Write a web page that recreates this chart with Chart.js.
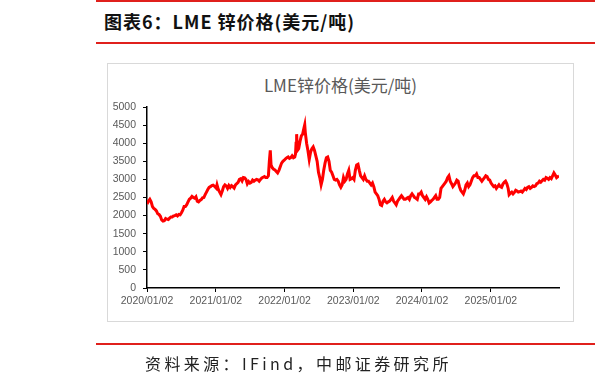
<!DOCTYPE html>
<html>
<head>
<meta charset="utf-8">
<script src="https://cdn.jsdelivr.net/npm/chart.js@4.4.0/dist/chart.umd.min.js"></script>
<style>
  body { margin: 0; width: 595px; height: 385px; position: relative; overflow: hidden; background: #fff;
         font-family: "Noto Sans CJK SC", sans-serif; }
  .rule { position: absolute; left: 96px; right: 0; background: #e0201c; }
  #head { position: absolute; left: 104px; top: 9px; font-size: 18px; font-weight: bold; color: #111; white-space: nowrap; line-height: 24px; letter-spacing: 1px; }
  #box { position: absolute; left: 107px; top: 63px; width: 467px; height: 259px; border: 1px solid #d9d9d9; box-sizing: border-box; }
  #ctitle { position: absolute; left: 107px; width: 467px; top: 73px; text-align: center; font-size: 17px; color: #595959; line-height: 24px; }
  #zincChart { position: absolute; left: 0; top: 0; }
  #src { position: absolute; left: 145px; top: 352px; font-size: 16px; color: #222; letter-spacing: 3.4px; white-space: nowrap; line-height: 22px; }
</style>
</head>
<body>
<div class="rule" style="top:0;height:2px"></div>
<div id="head">图表6：LME 锌价格(美元/吨)</div>
<div class="rule" style="top:42px;height:1.5px"></div>
<div id="box"></div>
<div id="ctitle">LME锌价格(美元/吨)</div>
<canvas id="zincChart" width="595" height="385"></canvas>
<div class="rule" style="top:343px;height:1.5px"></div>
<div id="src">资料来源：IFind，中邮证券研究所</div>

<script>
// weekly readings of LME zinc (USD/t)
var dates2020 = ['01-02','01-10','01-17','01-24','01-31','02-07','02-14','02-21','02-28','03-06','03-13','03-20','03-27',
  '04-03','04-10','04-17','04-24','05-01','05-08','05-15','05-22','05-29','06-05','06-12','06-19','06-26',
  '07-03','07-10','07-17','07-24','07-31','08-07','08-14','08-21','08-28','09-04','09-11','09-18','09-25',
  '10-02','10-09','10-16','10-23','10-30','11-06','11-13','11-20','11-27','12-04','12-11','12-18','12-28'];
var prices2020 = [2320,2400,2450,2380,2250,2200,2170,2130,2050,2030,1980,1880,1850,
  1860,1920,1900,1890,1930,1960,1960,1990,2000,2020,1990,2030,2020,
  2080,2150,2250,2250,2300,2380,2450,2480,2530,2500,2480,2520,2400,
  2380,2420,2440,2490,2500,2580,2650,2720,2780,2800,2830,2840,2800];

var dates2021 = ['01-04','01-08','01-15','01-22','01-29','02-05','02-12','02-19','02-26','03-05','03-12','03-19','03-26',
  '04-02','04-09','04-16','04-23','04-30','05-07','05-14','05-21','05-28','06-04','06-11','06-18','06-25',
  '07-02','07-09','07-16','07-23','07-30','08-06','08-13','08-20','08-27','09-03','09-10','09-17','09-24',
  '10-01','10-08','10-13','10-18','10-22','10-29','11-05','11-12','11-19','11-26','12-03','12-10','12-17','12-24','12-31'];
var prices2021 = [2760,2850,2720,2650,2580,2680,2800,2850,2820,2750,2830,2780,2830,
  2800,2760,2850,2880,2920,3000,3020,2960,3050,3040,3000,2880,2940,
  2900,2920,2980,2950,2980,3000,2990,2950,3000,3040,3060,3080,3050,
  3050,3100,3500,3800,3400,3320,3280,3260,3220,3180,3250,3350,3450,3500,3530];

var dates2022 = ['01-07','01-14','01-21','01-28','02-04','02-11','02-18','02-25','03-01','03-04','03-07','03-11','03-18','03-25',
  '04-01','04-08','04-14','04-19','04-22','04-29','05-06','05-13','05-20','05-27','06-03','06-10','06-17','06-24',
  '07-01','07-08','07-15','07-22','07-29','08-05','08-12','08-19','08-26','09-02','09-09','09-16','09-23','09-30',
  '10-07','10-14','10-21','10-28','11-04','11-11','11-18','11-25','12-02','12-09','12-16','12-23','12-30'];
var prices2022 = [3570,3600,3620,3580,3600,3650,3600,3620,3700,4000,4250,3800,3850,4050,
  4200,4250,4400,4510,4300,4000,3800,3550,3750,3850,3900,3800,3650,3500,
  3200,3050,2850,3000,3250,3450,3600,3620,3500,3250,3200,3100,3000,2980,
  3000,2950,2850,2780,2850,3050,2950,3000,3150,3250,3000,3020,3050];

var dates2023 = ['01-06','01-13','01-20','01-27','02-03','02-10','02-17','02-24','03-03','03-10','03-17','03-24','03-31',
  '04-07','04-14','04-21','04-28','05-05','05-12','05-19','05-26','06-02','06-09','06-16','06-23','06-30',
  '07-07','07-14','07-21','07-28','08-04','08-11','08-18','08-25','09-01','09-08','09-15','09-22','09-29',
  '10-06','10-13','10-20','10-27','11-03','11-10','11-17','11-24','12-01','12-08','12-15','12-22','12-29'];
var prices2023 = [3000,3250,3400,3420,3250,3100,3050,3000,3100,3000,2950,2950,2900,
  2850,2900,2800,2650,2600,2550,2450,2300,2280,2400,2450,2380,2350,
  2380,2400,2450,2500,2400,2350,2300,2400,2450,2500,2550,2500,2450,
  2450,2480,2500,2450,2550,2600,2550,2500,2480,2450,2600,2600,2650];

var dates2024 = ['01-05','01-12','01-19','01-26','02-02','02-09','02-16','02-23','03-01','03-08','03-15','03-22','03-29',
  '04-05','04-12','04-19','04-26','05-03','05-10','05-17','05-24','05-31','06-07','06-14','06-21','06-28',
  '07-05','07-12','07-19','07-26','08-02','08-09','08-16','08-23','08-30','09-06','09-13','09-20','09-27',
  '10-04','10-11','10-18','10-25','11-01','11-08','11-15','11-22','11-29','12-06','12-13','12-20','12-27'];
var prices2024 = [2550,2500,2450,2520,2450,2350,2380,2420,2450,2500,2550,2450,2450,
  2500,2750,2800,2850,2900,2950,3050,3100,2950,2880,2800,2850,2900,
  2980,2950,2800,2700,2650,2600,2700,2850,2900,2800,2850,2950,3050,
  3100,3100,3150,3050,3050,3000,2950,3000,3050,3100,3080,3000,2980];

var dates2025 = ['01-03','01-10','01-17','01-24','01-31','02-07','02-14','02-21','02-28','03-07','03-14','03-21','03-28',
  '04-04','04-09','04-16','04-23','04-30','05-07','05-14','05-21','05-28','06-04','06-11','06-18','06-25',
  '07-02','07-09','07-16','07-23','07-30','08-06','08-13','08-20','08-27','09-03','09-10','09-17','09-24',
  '10-01','10-08','10-15','10-22','10-29','11-05','11-12','11-19','11-26','12-03','12-10','12-17','12-24','12-30'];
var prices2025 = [2900,2850,2800,2820,2750,2800,2850,2800,2780,2870,2920,2950,2880,
  2750,2580,2620,2650,2600,2640,2700,2680,2650,2660,2680,2650,2700,
  2750,2720,2780,2800,2750,2780,2820,2800,2820,2880,2900,2950,2920,
  2960,3000,2980,3050,3030,3000,3050,3020,3100,3180,3120,3050,3080,3090];

var tickDates = ['2020-01-02','2021-01-02','2022-01-02','2023-01-02','2024-01-02','2025-01-02'];
var tickLabels = ['2020/01/02','2021/01/02','2022/01/02','2023/01/02','2024/01/02','2025/01/02'];

// years since the first date, so the x axis is a plain linear scale
var start = Date.parse('2020-01-02');
function toYears(d) {
  return (Date.parse(d) - start) / (365.25 * 86400000);
}

var points = [];
var years = [[2020, dates2020, prices2020], [2021, dates2021, prices2021], [2022, dates2022, prices2022],
             [2023, dates2023, prices2023], [2024, dates2024, prices2024], [2025, dates2025, prices2025]];
years.forEach(function (y) {
  for (var i = 0; i < y[1].length; i++) {
    points.push({ x: toYears(y[0] + '-' + y[1][i]), y: y[2][i] });
  }
});

var labelFont = { family: '"Liberation Sans", Arial, sans-serif', size: 10.5 };
var labelColor = '#595959';

var ctx = document.getElementById('zincChart').getContext('2d');
var chart = new Chart(ctx, {
  type: 'line',
  data: {
    datasets: [{
      label: 'LME锌价格(美元/吨)',
      data: points,
      borderColor: '#ff0000',
      borderWidth: 3,
      pointRadius: 0,
      tension: 0,
      fill: false
    }]
  },
  options: {
    responsive: false,
    animation: false,
    layout: { padding: { left: 107, top: 107, right: 36, bottom: 72 } },
    plugins: { legend: { display: false }, tooltip: { enabled: false }, title: { display: false } },
    scales: {
      x: {
        type: 'linear',
        min: 0,
        max: points[points.length - 1].x,
        afterBuildTicks: function (s) {
          s.ticks = tickDates.map(function (d) { return { value: toYears(d) }; });
        },
        afterFit: function (s) { s.height = 25; },
        ticks: {
          autoSkip: false, maxRotation: 0, padding: 3,
          font: labelFont, color: labelColor,
          callback: function (v, i) { return tickLabels[i]; }
        },
        grid: { drawOnChartArea: false, drawTicks: true, tickLength: 4, color: '#000', lineWidth: 1 },
        border: { color: '#000', width: 1.5 }
      },
      y: {
        min: 0,
        max: 5000,
        afterFit: function (s) { s.width = 40; },
        ticks: {
          stepSize: 500, padding: 7, font: labelFont, color: labelColor,
          callback: function (v) { return String(v); }
        },
        grid: { drawOnChartArea: false, drawTicks: true, tickLength: 4, color: '#000', lineWidth: 1 },
        border: { color: '#000', width: 1.5 }
      }
    }
  }
});
</script>
</body>
</html>
